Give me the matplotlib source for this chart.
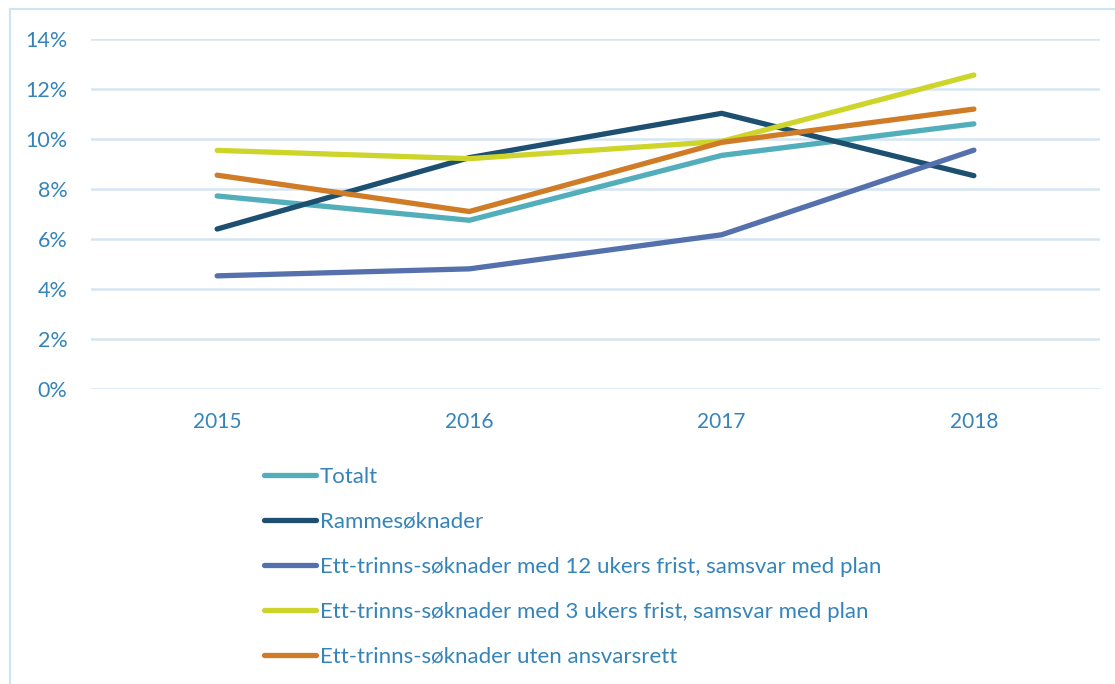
import matplotlib
matplotlib.use("Agg")
import matplotlib.pyplot as plt
from matplotlib.ticker import FuncFormatter

years = ["2015", "2016", "2017", "2018"]
totalt = [7.72, 6.75, 9.34, 10.60]
rammesoknader = [6.40, 9.25, 11.02, 8.53]
ett_12_uker = [4.53, 4.81, 6.17, 9.55]
ett_3_uker = [9.54, 9.21, 9.90, 12.55]
uten_ansvarsrett = [8.55, 7.10, 9.86, 11.19]

labels = ["Totalt", "Rammesøknader",
          "Ett-trinns-søknader med 12 ukers frist, samsvar med plan",
          "Ett-trinns-søknader med 3 ukers frist, samsvar med plan",
          "Ett-trinns-søknader uten ansvarsrett"]
series = [totalt, rammesoknader, ett_12_uker, ett_3_uker, uten_ansvarsrett]
colors = ["#52AEBA", "#1D5070", "#5470AD", "#CDD42A", "#D07B25"]
yticks = [0, 2, 4, 6, 8, 10, 12, 14]

text_color = "#3484BA"
grid_color = "#D5E5F3"
font = "Lato"

W, H = 1115, 684
fig = plt.figure(figsize=(W / 100, H / 100), dpi=100)
fig.patch.set_facecolor("white")

ax = fig.add_axes([91 / W, 1 - 389.3 / H, (1100 - 91) / W, (389.3 - 38.7) / H])
x = list(range(len(years)))
handles = []
for vals, lab, c in zip(series, labels, colors):
    h, = ax.plot(x, vals, color=c, lw=3.8, solid_capstyle="round",
                 solid_joinstyle="round", label=lab)
    handles.append(h)

ax.set_xlim(-0.5, 3.5)
ax.set_ylim(0, 14)
ax.set_yticks(yticks)
ax.yaxis.set_major_formatter(FuncFormatter(lambda v, p: f"{int(v)}%"))
ax.set_xticks(x)
ax.set_xticklabels(years)
for s in ax.spines.values():
    s.set_visible(False)
ax.grid(axis="y", color=grid_color, lw=1.8)
ax.set_axisbelow(True)
ax.tick_params(axis="both", length=0, colors=text_color, labelsize=15)
ax.tick_params(axis="y", pad=17, labelsize=15.5)
ax.tick_params(axis="x", pad=16)
for t in ax.get_xticklabels() + ax.get_yticklabels():
    t.set_fontfamily(font)

# outer border
fig.add_artist(plt.Line2D([10 / W, 10 / W], [0, 1 - 9 / H], transform=fig.transFigure,
                          color="#CFE3F3", lw=1.5))
fig.add_artist(plt.Line2D([10 / W, 1], [1 - 9 / H, 1 - 9 / H], transform=fig.transFigure,
                          color="#CFE3F3", lw=1.5))

leg = fig.legend(handles=handles, labels=labels, loc="upper left",
                 bbox_to_anchor=(264 / W, 1 - 467 / H), frameon=False,
                 borderpad=0, borderaxespad=0, handlelength=2.35, handletextpad=0.15,
                 labelspacing=1.12, prop={"family": font, "size": 16})
for t in leg.get_texts():
    t.set_color(text_color)

fig.savefig("out.png", dpi=100, facecolor="white")
